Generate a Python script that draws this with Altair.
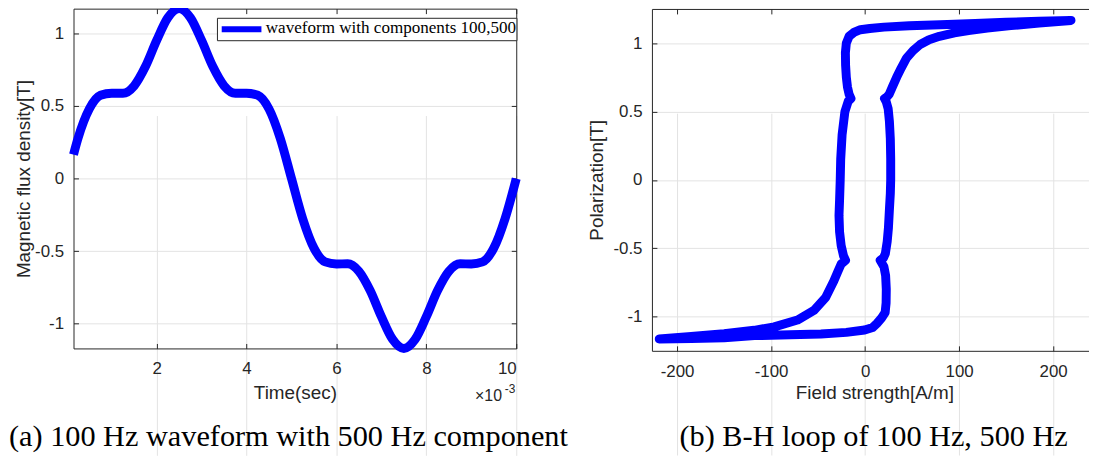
import altair as alt
import pandas as pd

# ---------------- data ----------------
# (a) waveform: time in ms (axis shows x10^-3 s), flux density in T
time_ms = [0.15, 0.25, 0.5, 0.75, 1.0, 1.25, 1.5, 1.75, 2.0, 2.25, 2.5,
           2.75, 3.0, 3.25, 3.5, 3.75, 4.0, 4.25, 4.5, 4.75, 5.0,
           5.25, 5.5, 5.75, 6.0, 6.25, 6.5, 6.75, 7.0, 7.25, 7.5,
           7.75, 8.0, 8.25, 8.5, 8.75, 9.0, 9.25, 9.5, 9.75, 10.0]
flux_T = [0.165, 0.277, 0.479, 0.574, 0.588, 0.587, 0.639, 0.771, 0.951, 1.108, 1.17,
          1.108, 0.951, 0.771, 0.639, 0.587, 0.588, 0.574, 0.479, 0.277, 0.0,
          -0.277, -0.479, -0.574, -0.588, -0.587, -0.639, -0.771, -0.951, -1.108, -1.17,
          -1.108, -0.951, -0.771, -0.639, -0.587, -0.588, -0.574, -0.479, -0.277, 0.0]
legend_labels = ["waveform with components 100,500"]

# (b) B-H loop, in drawing order
field_H = [27.2, 27.2, 26.8, 25.8, 24.5, 22.5, 20.6, 23.0, 25.5, 29.0, 33.5, 38.5, 44.0,
           51.0, 58.5, 68.0, 79.0, 95.0, 110.0, 130.0, 155.0, 185.0, 219.0,
           185.0, 150.0, 117.0, 80.0, 47.0, 20.0, 5.0, -5.0, -12.0, -17.0, -20.0, -21.0,
           -20.8, -20.0, -18.8, -17.0, -15.0, -18.0, -21.5, -24.5, -26.0, -26.5, -27.2,
           -27.8, -27.2, -25.5, -23.0, -20.8, -25.5, -29.0, -33.3, -42.0, -54.5, -72.0,
           -96.7, -118.0, -150.0, -185.0, -219.0,
           -185.0, -150.0, -117.7, -80.0, -47.0, -20.0, -0.5, 8.0, 12.5, 17.5, 21.3,
           22.3, 22.5, 21.8, 20.0, 16.0, 19.5, 21.5, 23.5, 24.8, 25.8, 26.8, 27.2]
polar_J = [0.0, 0.15, 0.30, 0.43, 0.52, 0.57, 0.595, 0.605, 0.625, 0.68, 0.75, 0.82, 0.89,
           0.945, 0.99, 1.025, 1.05, 1.075, 1.092, 1.11, 1.128, 1.147, 1.166,
           1.160, 1.153, 1.143, 1.134, 1.127, 1.117, 1.107, 1.098, 1.078, 1.05, 1.0, 0.93,
           0.84, 0.75, 0.68, 0.625, 0.595, 0.575, 0.50, 0.33, 0.15, 0.0, -0.15,
           -0.26, -0.38, -0.48, -0.555, -0.588, -0.615, -0.67, -0.74, -0.86, -0.955, -1.025,
           -1.075, -1.10, -1.125, -1.145, -1.163,
           -1.160, -1.155, -1.139, -1.133, -1.127, -1.115, -1.098, -1.08, -1.05, -1.01, -0.97,
           -0.90, -0.80, -0.70, -0.635, -0.588, -0.57, -0.54, -0.45, -0.35, -0.22, -0.10, 0.0]

x_ticks_a = [2, 4, 6, 8, 10]
x_ticks_b = [-200, -100, 0, 100, 200]
y_ticks = [-1, -0.5, 0, 0.5, 1]
axis_titles = ["Time(sec)", "Magnetic flux density[T]", "Field strength[A/m]", "Polarization[T]"]
exponent_text = ["\u00d710", "-3"]
captions = ["(a) 100 Hz waveform with 500 Hz component", "(b) B-H loop of 100 Hz, 500 Hz"]

# ---------------- style / layout ----------------
W, H = 1089, 448
BLUE = "#0000ff"
AX = "#262626"
GRID = "#e3e3e3"
SANS = "Liberation Sans"
SERIF = "Liberation Serif"
TICK_FS = 17
TITLE_FS = 19
CAP_FS = 30.5

# panel pixel boxes (view coords)
A_L, A_R, A_T, A_B = 66, 512, -1, 341.3
B_L, B_R, B_T, B_B = 648.7, 1097, -0.7, 343.7

wave_df = pd.DataFrame({"t": time_ms, "B": flux_T})
loop_df = pd.DataFrame({"H": field_H, "J": polar_J, "i": list(range(len(field_H)))})

xs_a = alt.Scale(domain=[0.15, 10], range=[A_L, A_R], nice=False, zero=False)
ys_a = alt.Scale(domain=[-1.17, 1.17], range=[A_B, A_T], nice=False, zero=False)
xs_b = alt.Scale(domain=[-226.8, 246.6], range=[B_L, B_R], nice=False, zero=False)
ys_b = alt.Scale(domain=[-1.25, 1.25], range=[B_B, B_T], nice=False, zero=False)

lab = dict(grid=True, gridColor=GRID, gridWidth=1, domain=True, domainColor=AX, domainWidth=1,
           ticks=False, tickSize=0, labelFont=SANS, labelFontSize=TICK_FS, labelColor=AX,
           titleFont=SANS, titleFontSize=TITLE_FS, titleColor=AX, titleFontWeight="normal",
           labelExpr="'' + datum.value", titleBaseline="alphabetic")
mir = dict(grid=False, labels=False, ticks=True, tickSize=5, tickColor=AX, tickWidth=1,
           domainColor=AX, domainWidth=1, title="")

# ---- panel (a)
a_line = alt.Chart(wave_df).mark_line(color=BLUE, strokeWidth=9, interpolate="monotone").encode(
    x=alt.X("t:Q", scale=xs_a, axis=alt.Axis(orient="bottom", offset=A_B - H, values=x_ticks_a,
                                              labelPadding=12, title=axis_titles[0], titleY=50, **lab)),
    y=alt.Y("B:Q", scale=ys_a, axis=alt.Axis(orient="left", offset=-A_L, values=y_ticks,
                                              labelPadding=10, title=axis_titles[1], titleX=-44.5, **lab)),
)
a_m1 = alt.Chart(wave_df).mark_line(opacity=0).encode(
    x=alt.X("t:Q", scale=xs_a, axis=alt.Axis(orient="top", offset=-A_B, values=x_ticks_a, domain=False, **mir)),
    y=alt.Y("B:Q", scale=ys_a, axis=alt.Axis(orient="right", offset=A_L - W, values=y_ticks, domain=False, **mir)),
)
a_m2 = alt.Chart(wave_df).mark_line(opacity=0).encode(
    x=alt.X("t:Q", scale=xs_a, axis=alt.Axis(orient="bottom", offset=A_T - H, values=x_ticks_a, domain=True, **mir)),
    y=alt.Y("B:Q", scale=ys_a, axis=alt.Axis(orient="left", offset=-A_R, values=y_ticks, domain=True, **mir)),
)

leg_df = pd.DataFrame({"label": legend_labels})
leg_box = alt.Chart(leg_df).mark_rect(fill="white", stroke=AX, strokeWidth=1).encode(
    x=alt.value(211), x2=alt.value(512.7), y=alt.value(8.7), y2=alt.value(31.3))
leg_sym = alt.Chart(leg_df).mark_rule(color=BLUE, strokeWidth=6).encode(
    x=alt.value(215.3), x2=alt.value(255.3), y=alt.value(19.7))
leg_txt = alt.Chart(leg_df).mark_text(align="left", baseline="alphabetic", font=SERIF,
                                      fontSize=17.2, color="black").encode(
    x=alt.value(259.7), y=alt.value(24), text="label:N")

exp_df = pd.DataFrame({"base": [exponent_text[0]], "pw": [exponent_text[1]]})
exp_base = alt.Chart(exp_df).mark_text(align="left", baseline="alphabetic", font=SANS,
                                       fontSize=16, color=AX).encode(
    x=alt.value(470.5), y=alt.value(394), text="base:N")
exp_pow = alt.Chart(exp_df).mark_text(align="left", baseline="alphabetic", font=SANS,
                                      fontSize=12, color=AX).encode(
    x=alt.value(500.5), y=alt.value(386), text="pw:N")

# ---- panel (b)
b_line = alt.Chart(loop_df).mark_line(color=BLUE, strokeWidth=9, strokeJoin="round", strokeCap="round").encode(
    x=alt.X("H:Q", scale=xs_b, axis=alt.Axis(orient="bottom", offset=B_B - H, values=x_ticks_b,
                                              labelPadding=12.8, title=axis_titles[2], titleY=48, **lab)),
    y=alt.Y("J:Q", scale=ys_b, axis=alt.Axis(orient="left", offset=-B_L, values=y_ticks,
                                              labelPadding=10, title=axis_titles[3], titleX=-49.7, **lab)),
    order="i:Q",
)
b_m1 = alt.Chart(loop_df).mark_line(opacity=0).encode(
    x=alt.X("H:Q", scale=xs_b, axis=alt.Axis(orient="top", offset=-B_B, values=x_ticks_b, domain=False, **mir)),
    y=alt.Y("J:Q", scale=ys_b, axis=alt.Axis(orient="right", offset=B_L - W, values=y_ticks, domain=False, **mir)),
    order="i:Q",
)
b_m2 = alt.Chart(loop_df).mark_line(opacity=0).encode(
    x=alt.X("H:Q", scale=xs_b, axis=alt.Axis(orient="bottom", offset=B_T - H, values=x_ticks_b, domain=True, **mir)),
    y=alt.Y("J:Q", scale=ys_b, axis=None),
    order="i:Q",
)

# ---- captions
cap_a = alt.Chart(pd.DataFrame({"c": [captions[0]]})).mark_text(
    align="left", baseline="alphabetic", font=SERIF, fontSize=CAP_FS, color="black").encode(
    x=alt.value(1), y=alt.value(439.7), text="c:N")
cap_b = alt.Chart(pd.DataFrame({"c": [captions[1]]})).mark_text(
    align="center", baseline="alphabetic", font=SERIF, fontSize=CAP_FS, color="black").encode(
    x=alt.value(872), y=alt.value(439.7), text="c:N")

chart = alt.layer(
    a_m1, a_m2, a_line, leg_box, leg_sym, leg_txt, exp_base, exp_pow,
    b_m1, b_m2, b_line, cap_a, cap_b,
).resolve_scale(x="independent", y="independent").resolve_axis(
    x="independent", y="independent"
).properties(
    width=W, height=H, padding=0, autosize=alt.AutoSizeParams(type="none"),
    background="white",
).configure_view(stroke=None)

chart.save("out.html", embed_options={"renderer": "svg", "actions": False})
